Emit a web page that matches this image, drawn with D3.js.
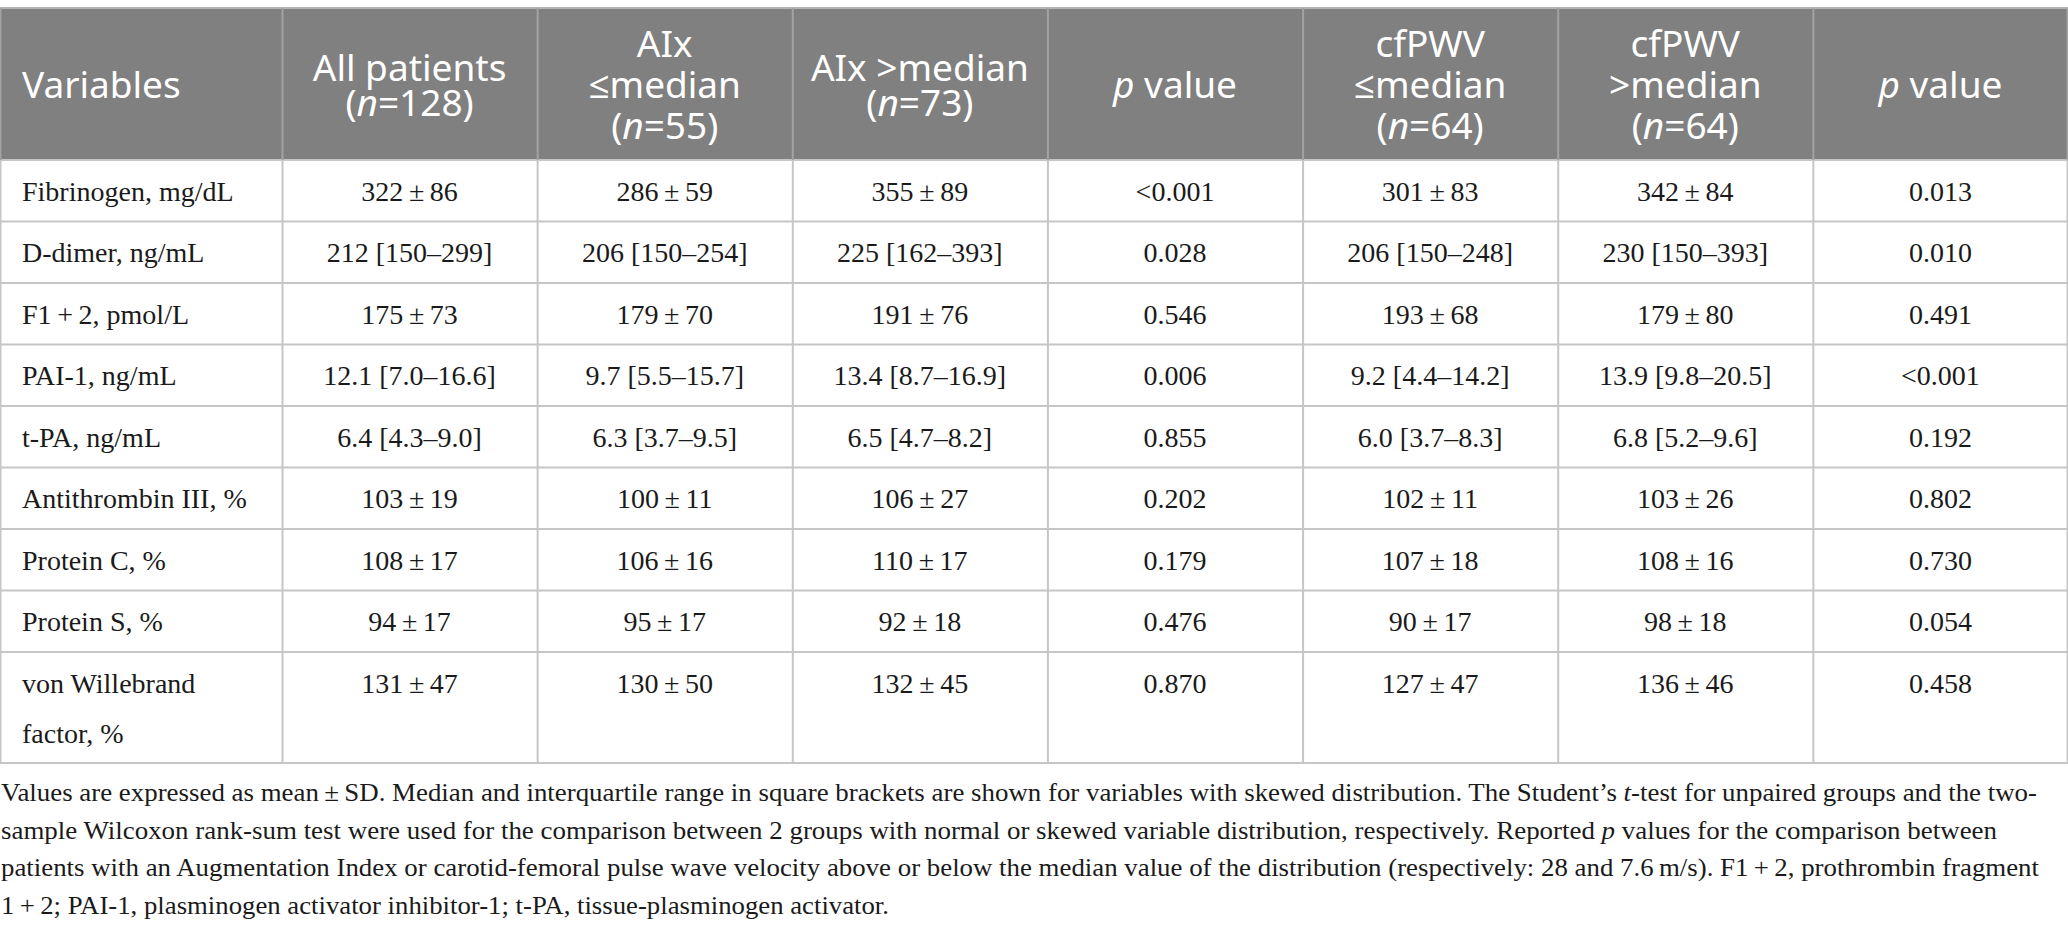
<!DOCTYPE html>
<html>
<head>
<meta charset="utf-8">
<script src="https://cdn.jsdelivr.net/npm/d3@7"></script>
<style>
  html, body { margin: 0; padding: 0; background: #fff; }
  svg { display: block; }
</style>
</head>
<body>
<svg></svg>
<script>
// 表头（每列的文字行，用 {t, i} 标记斜体片段）
const headers = [
  [[{ t: 'Variables' }]],
  [[{ t: 'All patients' }], [{ t: '(' }, { t: 'n', i: true }, { t: '=128)' }]],
  [[{ t: 'AIx' }], [{ t: '≤median' }], [{ t: '(' }, { t: 'n', i: true }, { t: '=55)' }]],
  [[{ t: 'AIx >median' }], [{ t: '(' }, { t: 'n', i: true }, { t: '=73)' }]],
  [[{ t: 'p', i: true }, { t: ' value' }]],
  [[{ t: 'cfPWV' }], [{ t: '≤median' }], [{ t: '(' }, { t: 'n', i: true }, { t: '=64)' }]],
  [[{ t: 'cfPWV' }], [{ t: '>median' }], [{ t: '(' }, { t: 'n', i: true }, { t: '=64)' }]],
  [[{ t: 'p', i: true }, { t: ' value' }]]
]

const variables = [
  ['Fibrinogen, mg/dL'],
  ['D-dimer, ng/mL'],
  ['F1\u2009+\u20092, pmol/L'],
  ['PAI-1, ng/mL'],
  ['t-PA, ng/mL'],
  ['Antithrombin III, %'],
  ['Protein C, %'],
  ['Protein S, %'],
  ['von Willebrand', 'factor, %']
]

const pm = (a, b) => a + '\u2009±\u2009' + b

const allPatients = [pm(322, 86), '212 [150–299]', pm(175, 73), '12.1 [7.0–16.6]', '6.4 [4.3–9.0]', pm(103, 19), pm(108, 17), pm(94, 17), pm(131, 47)]
const aixLow = [pm(286, 59), '206 [150–254]', pm(179, 70), '9.7 [5.5–15.7]', '6.3 [3.7–9.5]', pm(100, 11), pm(106, 16), pm(95, 17), pm(130, 50)]
const aixHigh = [pm(355, 89), '225 [162–393]', pm(191, 76), '13.4 [8.7–16.9]', '6.5 [4.7–8.2]', pm(106, 27), pm(110, 17), pm(92, 18), pm(132, 45)]
const pAix = ['<0.001', '0.028', '0.546', '0.006', '0.855', '0.202', '0.179', '0.476', '0.870']
const pwvLow = [pm(301, 83), '206 [150–248]', pm(193, 68), '9.2 [4.4–14.2]', '6.0 [3.7–8.3]', pm(102, 11), pm(107, 18), pm(90, 17), pm(127, 47)]
const pwvHigh = [pm(342, 84), '230 [150–393]', pm(179, 80), '13.9 [9.8–20.5]', '6.8 [5.2–9.6]', pm(103, 26), pm(108, 16), pm(98, 18), pm(136, 46)]
const pPwv = ['0.013', '0.010', '0.491', '<0.001', '0.192', '0.802', '0.730', '0.054', '0.458']

const footnote = [
  [{ t: 'Values are expressed as mean\u2009±\u2009SD. Median and interquartile range in square brackets are shown for variables with skewed distribution. The Student’s ' }, { t: 't', i: true }, { t: '-test for unpaired groups and the two-' }],
  [{ t: 'sample Wilcoxon rank-sum test were used for the comparison between 2 groups with normal or skewed variable distribution, respectively. Reported ' }, { t: 'p', i: true }, { t: ' values for the comparison between' }],
  [{ t: 'patients with an Augmentation Index or carotid-femoral pulse wave velocity above or below the median value of the distribution (respectively: 28 and 7.6\u2009m/s). F1\u2009+\u20092, prothrombin fragment' }],
  [{ t: '1\u2009+\u20092; PAI-1, plasminogen activator inhibitor-1; t-PA, tissue-plasminogen activator.' }]
]

window.onload = () => {
  const width = 2068
  const height = 932
  const tableTop = 8
  const headBottom = 160
  const firstColW = 282
  const serif = '"Liberation Serif", "Times New Roman", serif'
  const sans = '"Noto Sans", "Open Sans", sans-serif'

  const svg = d3.select('svg')
    .attr('width', width)
    .attr('height', height)
    .attr('viewBox', [0, 0, width, height])

  const columns = [allPatients, aixLow, aixHigh, pAix, pwvLow, pwvHigh, pPwv]

  // 列比例尺：第一列固定宽度，其余七列等宽
  const x = d3.scaleBand()
    .domain(d3.range(columns.length))
    .range([firstColW, width])
  const colLeft = i => i === 0 ? 0 : x(i - 1)
  const colWidth = i => i === 0 ? firstColW : x.bandwidth()

  // 行比例尺：按行内文字行数累计高度
  const lineUnits = variables.map(v => 1 + (v.length - 1) * 0.805)
  const cum = [0, ...d3.cumsum(lineUnits)]
  const y = d3.scaleLinear()
    .domain([0, cum[cum.length - 1]])
    .range([headBottom, 763])

  // 表头背景
  svg.append('rect')
    .attr('x', 0).attr('y', tableTop)
    .attr('width', width).attr('height', headBottom - tableTop)
    .attr('fill', '#808080')

  function appendSegments(parent, segs) {
    segs.forEach(s => {
      parent.append('tspan')
        .attr('font-style', s.i ? 'italic' : null)
        .text(s.t)
    })
  }

  // 表头文字：多行放在同一个 text 里
  headers.forEach((lines, c) => {
    const step = lines.length === 3 ? 41 : 35
    const base = 98 - (lines.length - 1) * step / 2
    const cx = c === 0 ? 22 : colLeft(c) + colWidth(c) / 2
    const t = svg.append('text')
      .attr('x', cx)
      .attr('y', base)
      .attr('text-anchor', c === 0 ? 'start' : 'middle')
      .attr('font-family', sans)
      .attr('font-size', 37)
      .attr('fill', '#fff')
    lines.forEach((segs, k) => {
      const line = t.append('tspan')
        .attr('x', cx)
        .attr('dy', k === 0 ? 0 : step)
      appendSegments(line, segs)
    })
  })

  // 表格线
  const grid = svg.append('g')
  grid.selectAll('line.h')
    .data(cum)
    .join('line')
    .attr('x1', 0).attr('x2', width)
    .attr('y1', d => y(d)).attr('y2', d => y(d))
    .attr('stroke', '#c6c6c6')
    .attr('stroke-width', 2)

  grid.append('line')
    .attr('x1', 0).attr('x2', width)
    .attr('y1', tableTop).attr('y2', tableTop)
    .attr('stroke', '#b4b4b4')
    .attr('stroke-width', 2)

  const vLines = [0, ...d3.range(columns.length).map(i => x(i)), width - 1]
  grid.selectAll('line.vb')
    .data(vLines)
    .join('line')
    .attr('x1', d => d + 0.5).attr('x2', d => d + 0.5)
    .attr('y1', headBottom).attr('y2', y(cum[cum.length - 1]))
    .attr('stroke', '#c6c6c6')
    .attr('stroke-width', 2)
  grid.selectAll('line.vh')
    .data(vLines)
    .join('line')
    .attr('x1', d => d + 0.5).attr('x2', d => d + 0.5)
    .attr('y1', tableTop).attr('y2', headBottom)
    .attr('stroke', '#a2a2a2')
    .attr('stroke-width', 2)

  // 正文
  const body = svg.append('g')
    .attr('font-family', serif)
    .attr('font-size', 28)
    .attr('fill', '#1a1a1a')

  variables.forEach((lines, r) => {
    const top = y(cum[r])
    const label = body.append('text')
      .attr('x', 22)
      .attr('y', top + 41)
    lines.forEach((line, k) => {
      label.append('tspan')
        .attr('x', 22)
        .attr('dy', k === 0 ? 0 : 50)
        .text(line)
    })
    columns.forEach((col, c) => {
      body.append('text')
        .attr('x', x(c) + x.bandwidth() / 2)
        .attr('y', top + 41)
        .attr('text-anchor', 'middle')
        .text(col[r])
    })
  })

  // 注释
  const noteWidths = [2036, 1996, 2038, 888]
  footnote.forEach((segs, k) => {
    const t = svg.append('text')
      .attr('x', 1)
      .attr('y', 801 + k * 37.7)
      .attr('font-family', serif)
      .attr('font-size', 26)
      .attr('fill', '#1a1a1a')
    appendSegments(t, segs)
    const w = t.node().getComputedTextLength()
    if (Math.abs(w - noteWidths[k]) > 4) {
      t.attr('textLength', noteWidths[k]).attr('lengthAdjust', 'spacingAndGlyphs')
    }
  })
}
</script>
</body>
</html>
